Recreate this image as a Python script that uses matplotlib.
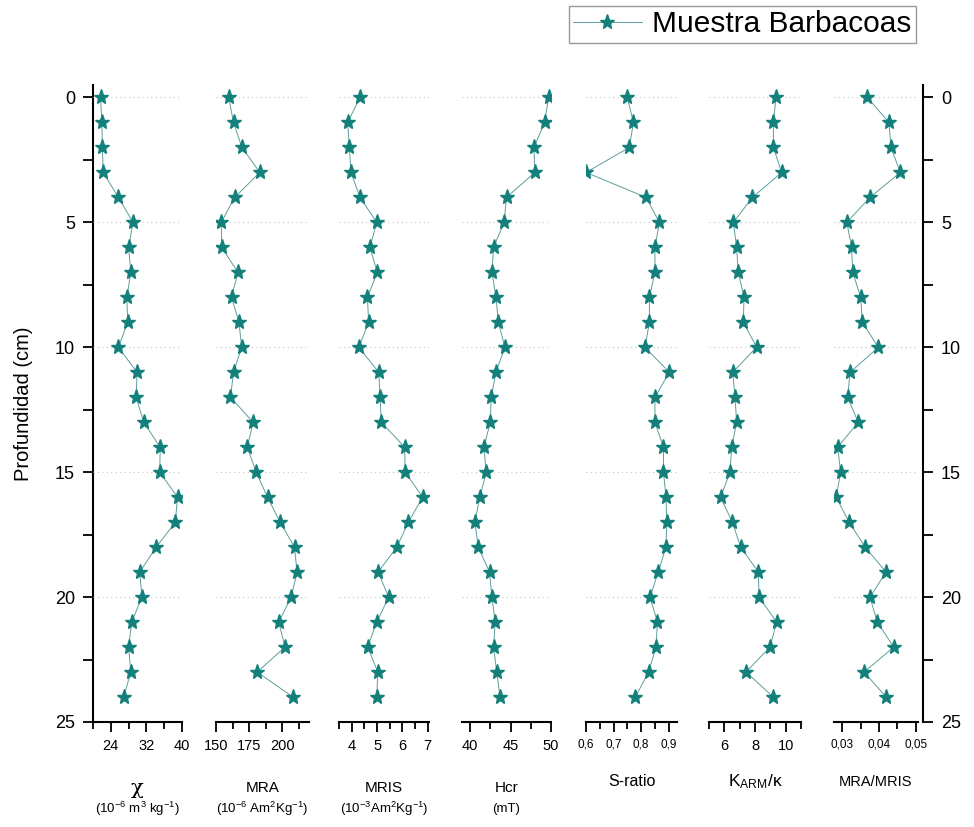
import matplotlib.pyplot as plt
from matplotlib.lines import Line2D

plt.rcParams['font.family'] = ['Liberation Sans', 'DejaVu Sans']
plt.rcParams['mathtext.fontset'] = 'custom'
plt.rcParams['mathtext.rm'] = 'Liberation Sans'
plt.rcParams['mathtext.it'] = 'Liberation Sans:italic'

# depth (cm)
depth = list(range(25))

chi = [21.7, 22.0, 22.1, 22.3, 25.7, 29.0, 28.0, 28.5, 27.6, 27.8, 25.7, 29.9, 29.7,
       31.4, 35.1, 35.0, 39.0, 38.5, 34.2, 30.5, 31.0, 28.7, 28.0, 28.5, 26.9]
mra = [159.6, 163.2, 169.5, 183.0, 164.0, 154.0, 154.3, 166.5, 161.7, 167.3, 169.3, 163.2, 160.9,
       177.9, 173.6, 180.2, 188.8, 198.2, 209.1, 211.0, 206.6, 197.2, 202.0, 181.0, 207.9]
mris = [4.33, 3.84, 3.91, 3.97, 4.33, 4.99, 4.72, 5.01, 4.62, 4.67, 4.28, 5.07, 5.12,
        5.17, 6.09, 6.11, 6.80, 6.24, 5.78, 5.04, 5.46, 4.99, 4.63, 5.03, 4.99]
hcr = [49.7, 49.2, 47.9, 48.0, 44.5, 44.2, 42.9, 42.7, 43.2, 43.5, 44.3, 43.2, 42.6,
       42.5, 41.7, 42.0, 41.2, 40.6, 41.0, 42.4, 42.7, 43.1, 42.9, 43.3, 43.7]
s_ratio = [0.750, 0.772, 0.757, 0.600, 0.818, 0.866, 0.850, 0.850, 0.830, 0.830, 0.814, 0.902, 0.850,
           0.850, 0.881, 0.881, 0.890, 0.893, 0.890, 0.862, 0.832, 0.859, 0.854, 0.827, 0.779]
karm = [9.37, 9.20, 9.20, 9.74, 7.83, 6.59, 6.80, 6.91, 7.28, 7.24, 8.11, 6.54, 6.70,
        6.80, 6.48, 6.37, 5.76, 6.52, 7.07, 8.22, 8.26, 9.41, 8.98, 7.41, 9.20]
mra_mris = [0.0368, 0.0427, 0.0432, 0.0458, 0.0375, 0.0312, 0.0325, 0.0328, 0.0350, 0.0354, 0.0398,
            0.0321, 0.0314, 0.0343, 0.0287, 0.0295, 0.0283, 0.0318, 0.0362, 0.0419, 0.0375,
            0.0395, 0.0440, 0.0359, 0.0419]

chi_ticks = [24, 32, 40]
mra_ticks = [150, 175, 200]
mris_ticks = [4, 5, 6, 7]
hcr_ticks = [40, 45, 50]
sr_ticks = [0.6, 0.7, 0.8, 0.9]
sr_labels = ['0,6', '0,7', '0,8', '0,9']
karm_ticks = [6, 8, 10]
ratio_ticks = [0.03, 0.04, 0.05]
ratio_labels = ['0,03', '0,04', '0,05']

depth_ticks = [0, 5, 10, 15, 20, 25]

label = 'Muestra Barbacoas'

W, H = 974, 827
top_px, bot_px = 85, 722
teal = '#14807B'
line_c = '#5E9E9B'

fig = plt.figure(figsize=(W / 100, H / 100), dpi=100)


def rect(x0, x1):
    return [x0 / W, 1 - bot_px / H, (x1 - x0) / W, (bot_px - top_px) / H]


# host axis carrying the depth scale on both sides
host = fig.add_axes(rect(93, 923))
host.set_ylim(25, -0.5)
host.set_xticks([])
host.spines['top'].set_visible(False)
host.spines['bottom'].set_visible(False)
for s in ['left', 'right']:
    host.spines[s].set_linewidth(1.5)
host.set_yticks(depth_ticks)
host.set_yticks([2.5, 7.5, 12.5, 17.5, 22.5], minor=True)
host.tick_params(axis='y', which='both', direction='out', length=7, width=1.3,
                 left=True, right=True, labelleft=True, labelright=True,
                 labelsize=13, pad=6)
host.set_ylabel('Profundidad (cm)', fontsize=14.5, labelpad=16)

panels = [
    # data, x pixel span, xlim, ticks, labels, minor, labelsize, title, units, title size
    (chi, (93, 182), (20, 40), chi_ticks, None, [20, 28, 36], 10.5,
     'χ', r'(10$^{-6}$ m$^3$ kg$^{-1}$)', 15),
    (mra, (216, 309), (150, 220), mra_ticks, None, [162.5, 187.5, 212.5], 10.5,
     'MRA', r'(10$^{-6}$ Am$^2$Kg$^{-1}$)', 11),
    (mris, (339, 429), (3.5, 7.05), mris_ticks, None, [3.5, 4.5, 5.5, 6.5], 10.5,
     'MRIS', r'(10$^{-3}$Am$^2$Kg$^{-1}$)', 11),
    (hcr, (462, 551), (39, 50), hcr_ticks, None, [42.5, 47.5], 10.5,
     'Hcr', '(mT)', 11),
    (s_ratio, (586, 677), (0.6, 0.93), sr_ticks, sr_labels, [0.65, 0.75, 0.85], 8.5,
     'S-ratio', None, 11.5),
    (karm, (709, 801), (5, 11), karm_ticks, None, [5, 7, 9, 11], 10.5,
     r'K$_{\mathrm{ARM}}$/κ', None, 12.5),
    (mra_mris, (834, 918), (0.0277, 0.0506), ratio_ticks, ratio_labels, [0.035, 0.045], 8.5,
     'MRA/MRIS', None, 10.5),
]

for vals, (x0, x1), xlim, ticks, labels, minor, lsize, title, units, tsize in panels:
    ax = fig.add_axes(rect(x0, x1))
    ax.patch.set_alpha(0)
    for y in depth_ticks[:-1]:
        ax.axhline(y, color='#c9c2c2', lw=0.8, ls=(0, (1, 3)), zorder=0)
    ax.plot(vals, depth, color=line_c, lw=0.7, marker='*', markersize=11,
            markerfacecolor=teal, markeredgecolor=teal, zorder=3)
    ax.set_ylim(25, -0.5)
    ax.set_xlim(*xlim)
    ax.set_yticks([])
    for s in ['left', 'right', 'top']:
        ax.spines[s].set_visible(False)
    ax.spines['bottom'].set_linewidth(1.5)
    ax.set_xticks(ticks)
    if labels is not None:
        ax.set_xticklabels(labels)
    ax.set_xticks(minor, minor=True)
    ax.tick_params(axis='x', which='major', direction='out', length=7, width=1.3,
                   labelsize=lsize, pad=5)
    ax.tick_params(axis='x', which='minor', direction='out', length=5, width=1.3)
    xc = (x0 + x1) / 2 / W
    if units is None:
        fig.text(xc, 1 - 782 / H, title, ha='center', va='center', fontsize=tsize)
    else:
        fam = ['DejaVu Serif'] if title == 'χ' else None
        fig.text(xc, 1 - 788 / H, title, ha='center', va='center', fontsize=tsize,
                 family=fam)
        fig.text(xc, 1 - 809 / H, units, ha='center', va='center', fontsize=9.5)

handle = Line2D([], [], color=line_c, lw=0.7, marker='*', markersize=11,
                markerfacecolor=teal, markeredgecolor=teal)
fig.legend([handle], [label], loc='upper right', bbox_to_anchor=(916 / W, 1 - 6 / H),
           fontsize=21.5, frameon=True, fancybox=False, edgecolor='#808080',
           handlelength=2.3, borderpad=0.15, handletextpad=0.35, borderaxespad=0)

fig.savefig('out.png', dpi=100)
